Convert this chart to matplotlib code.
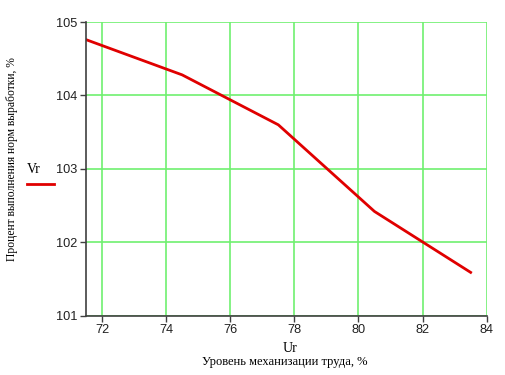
import matplotlib
matplotlib.use('Agg')
import matplotlib.pyplot as plt

# mechanisation level, % and output norm fulfilment, %
ur = [71.5, 74.5, 77.5, 80.5, 83.5]
vr = [104.76, 104.28, 103.6, 102.42, 101.59]
x_ticks = [72, 74, 76, 78, 80, 82, 84]
y_ticks = [101, 102, 103, 104, 105]

GRID = '#70f070'
RED = '#e00000'

fig = plt.figure(figsize=(5.05, 3.75), dpi=100)
ax = fig.add_axes([0.1703, 0.1581, 0.7934, 0.7832])

ax.plot(ur, vr, color=RED, lw=2)
ax.set_xlim(71.5, 84)
ax.set_ylim(101, 105)
ax.set_xticks(x_ticks)
ax.set_yticks(y_ticks)
ax.grid(True, color=GRID, lw=1.2)
ax.set_axisbelow(True)

for s in ['top', 'right']:
    ax.spines[s].set_visible(False)
for s in ['left', 'bottom']:
    ax.spines[s].set_color('#404040')
    ax.spines[s].set_linewidth(1.2)
ax.tick_params(direction='out', length=4, width=1, color='#404040',
               labelsize=9.2, pad=2)
for lab in ax.get_xticklabels() + ax.get_yticklabels():
    lab.set_fontfamily('Liberation Sans')
    lab.set_color('#202020')

fig.text(0.574, 0.072, 'Ur', ha='center', va='center',
         family='Liberation Serif', fontsize=10)
fig.text(0.564, 0.035, 'Уровень механизации труда, %', ha='center', va='center',
         family='Liberation Serif', fontsize=9)
fig.text(0.024, 0.576, 'Процент выполнения норм выработки, %', rotation=90,
         ha='center', va='center', family='Liberation Serif', fontsize=8.4)

# legend drawn by hand, like the original
fig.text(0.066, 0.547, 'Vr', ha='center', va='center',
         family='Liberation Serif', fontsize=10)
fig.add_artist(plt.Line2D([0.053, 0.107], [0.509, 0.509], color=RED, lw=2,
                          transform=fig.transFigure))

fig.savefig('out.png', dpi=100)
